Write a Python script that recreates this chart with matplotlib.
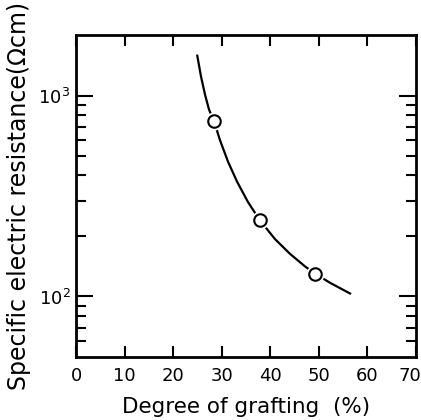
import matplotlib
matplotlib.use("Agg")
import matplotlib.pyplot as plt
import matplotlib.transforms as mtransforms
from matplotlib.ticker import FixedLocator, NullFormatter

# Data
grafting_pts = [28.4, 37.9, 49.2]
resistance_pts = [744, 239, 130]

curve_x = [24.97, 25.74, 26.56, 27.38, 28.41, 29.65, 31.29, 33.15, 35.41, 37.88, 40.97, 44.06, 47.17, 49.23, 52.30, 56.42]
curve_y = [1578, 1242, 1011, 852, 744, 599, 469, 373, 295, 239, 193, 163, 141, 130, 117, 103.5]

xticks = [0, 10, 20, 30, 40, 50, 60, 70]
yticks_major = [100, 1000]
yticks_minor = [60, 70, 80, 90, 200, 300, 400, 500, 600, 700, 800, 900]
ytick_labels = [r"$10^2$", r"$10^3$"]

plt.rcParams['font.family'] = ['DejaVu Sans']
plt.rcParams['mathtext.fontset'] = 'dejavusans'

fig = plt.figure(figsize=(4.21, 4.20), dpi=100)
ax = fig.add_axes([76/421, (420-357)/420, (416-76)/421, (357-35)/420])

ax.plot(curve_x, curve_y, color='black', lw=1.6, zorder=2)
# white halo so the curve stops short of each circle
ax.plot(grafting_pts, resistance_pts, linestyle='none', marker='o', ms=13,
        mfc='white', mec='white', mew=0, zorder=3)
ax.plot(grafting_pts, resistance_pts, linestyle='none', marker='o', ms=9,
        mfc='white', mec='black', mew=1.5, zorder=4)

ax.set_yscale('log')
ax.set_xlim(0, 70)
ax.set_ylim(50, 2000)

ax.xaxis.set_major_locator(FixedLocator(xticks))
ax.set_xticklabels([str(t) for t in xticks])
ax.yaxis.set_major_locator(FixedLocator(yticks_major))
ax.set_yticklabels(ytick_labels)
ax.yaxis.set_minor_locator(FixedLocator(yticks_minor))
ax.yaxis.set_minor_formatter(NullFormatter())

for s in ax.spines.values():
    s.set_linewidth(2)
    s.set_color('black')

ax.tick_params(axis='x', which='major', direction='in', length=8, width=1.5,
               top=True, bottom=True, labelsize=13, pad=7)
ax.tick_params(axis='y', which='major', direction='in', length=12, width=1.5,
               left=True, right=True, labelsize=13, pad=4)
ax.tick_params(axis='y', which='minor', direction='in', length=7, width=1.5,
               left=True, right=True)

# nudge the last x tick label left so it stays inside the figure
lbl = ax.get_xticklabels()[-1]
lbl.set_transform(lbl.get_transform() + mtransforms.ScaledTranslation(-6/100, 0, fig.dpi_scale_trans))

ax.set_xlabel("Degree of grafting  (%)", fontsize=15.5, labelpad=9)
ax.set_ylabel("Specific electric resistance(\u03a9cm)", fontsize=17, labelpad=5)

fig.savefig("out.png", dpi=100)
